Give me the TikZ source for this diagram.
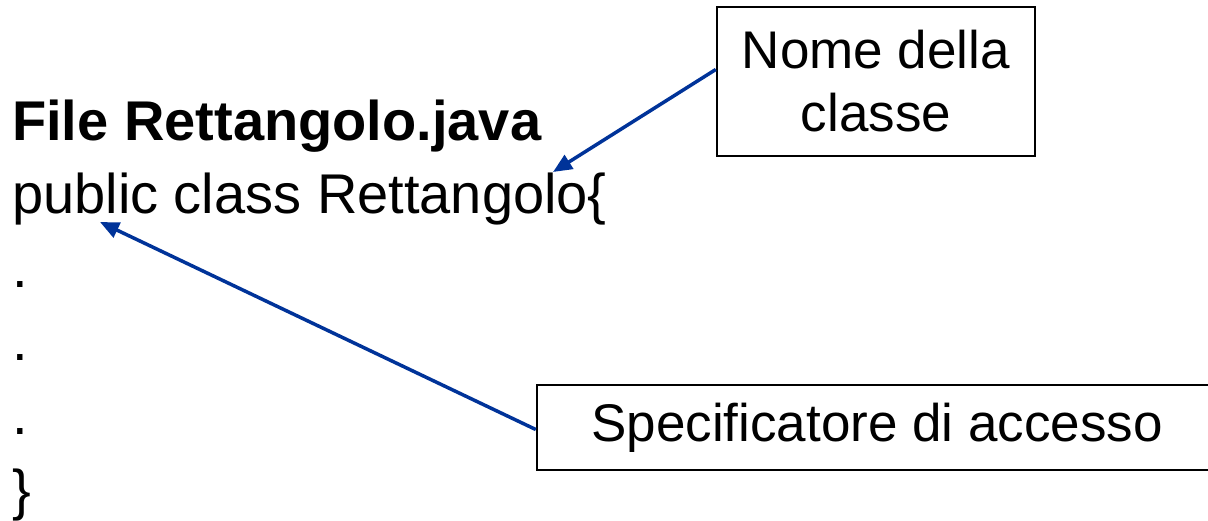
\documentclass[tikz,border=0pt]{standalone}
\usepackage{fontspec}
\setmainfont{Liberation Sans}
\usetikzlibrary{arrows.meta}
\definecolor{arrowblue}{RGB}{0,51,153}
\tikzset{
  codeline/.style={anchor=base west, inner sep=0pt, font=\fontsize{56}{66}\selectfont},
  labelbox/.style={draw=black, line width=2.5pt, inner sep=0pt, align=center, font=\fontsize{53}{63}\selectfont},
  pointer/.style={draw=arrowblue, line width=3.5pt, -{Triangle[length=19pt,width=16pt]}}
}
\begin{document}
\begin{tikzpicture}[x=1pt,y=-1pt]
\useasboundingbox (0,0) rectangle (1208,520);
\clip (0,0) rectangle (1208,520);
\fill[white] (0,0) rectangle (1208,520);
\node[codeline] (title) at (12,140) {\bfseries File Rettangolo.java};
\node[codeline] (decl) at (12,213.5) {public class Rettangolo\{};
\node[codeline] (d1) at (12,287) {.};
\node[codeline] (d2) at (12,360.5) {.};
\node[codeline] (d3) at (12,434) {.};
\node[codeline] (close) at (12,509) {\}};
\node[labelbox, minimum width=318pt, minimum height=149pt] (b1) at (876,81.5) {Nome della\\classe};
\node[labelbox, minimum width=680pt, minimum height=85pt] (b2) at (877,427.5) {Specificatore di accesso};
\coordinate (t1) at (553,172);
\coordinate (t2) at (100,222);
\draw[pointer] ([yshift=12pt]b1.west) -- (t1);
\draw[pointer] ([yshift=-2pt]b2.west) -- (t2);
\end{tikzpicture}
\end{document}
